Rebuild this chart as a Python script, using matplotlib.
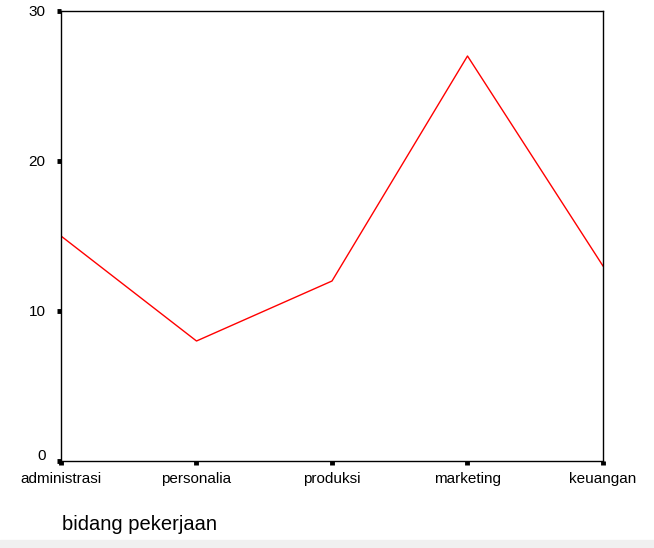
import matplotlib
matplotlib.use("Agg")
import matplotlib.pyplot as plt
from matplotlib.transforms import ScaledTranslation

categories = ["administrasi", "personalia", "produksi", "marketing", "keuangan"]
counts = [15, 8, 12, 27, 13]
yticks = [0, 10, 20, 30]

plt.rcParams['font.family'] = ['Liberation Sans', 'DejaVu Sans']

fig = plt.figure(figsize=(6.54, 5.48), dpi=100)
ax = fig.add_axes([61 / 654, 1 - 461 / 548, 542 / 654, 450 / 548])

x = list(range(len(categories)))
ax.plot(x, counts, color="#ff0000", linewidth=1.0)

ax.set_xlim(0, len(categories) - 1)
ax.set_ylim(0, 30)
ax.set_xticks(x)
ax.set_xticklabels(categories)
ax.set_yticks(yticks)
ax.tick_params(direction="out", length=3, width=3.5, labelsize=11)
ax.tick_params(axis="x", pad=5)
ax.tick_params(axis="y", pad=8)
for s in ax.spines.values():
    s.set_linewidth(1.0)

# the "0" label sits a little above the corner
ax.get_yticklabels()[0].set_transform(
    ax.get_yticklabels()[0].get_transform() + ScaledTranslation(0, 6 / 100, fig.dpi_scale_trans))

fig.text(62 / 654, 1 - 525 / 548, "bidang pekerjaan", fontsize=14.5, ha="left", va="center")

# light grey strip along the bottom edge
fig.patches.append(plt.Rectangle((0, 0), 1, 8 / 548, transform=fig.transFigure,
                                 color="#f0f0f0", zorder=0))

fig.savefig("out.png", dpi=100)
